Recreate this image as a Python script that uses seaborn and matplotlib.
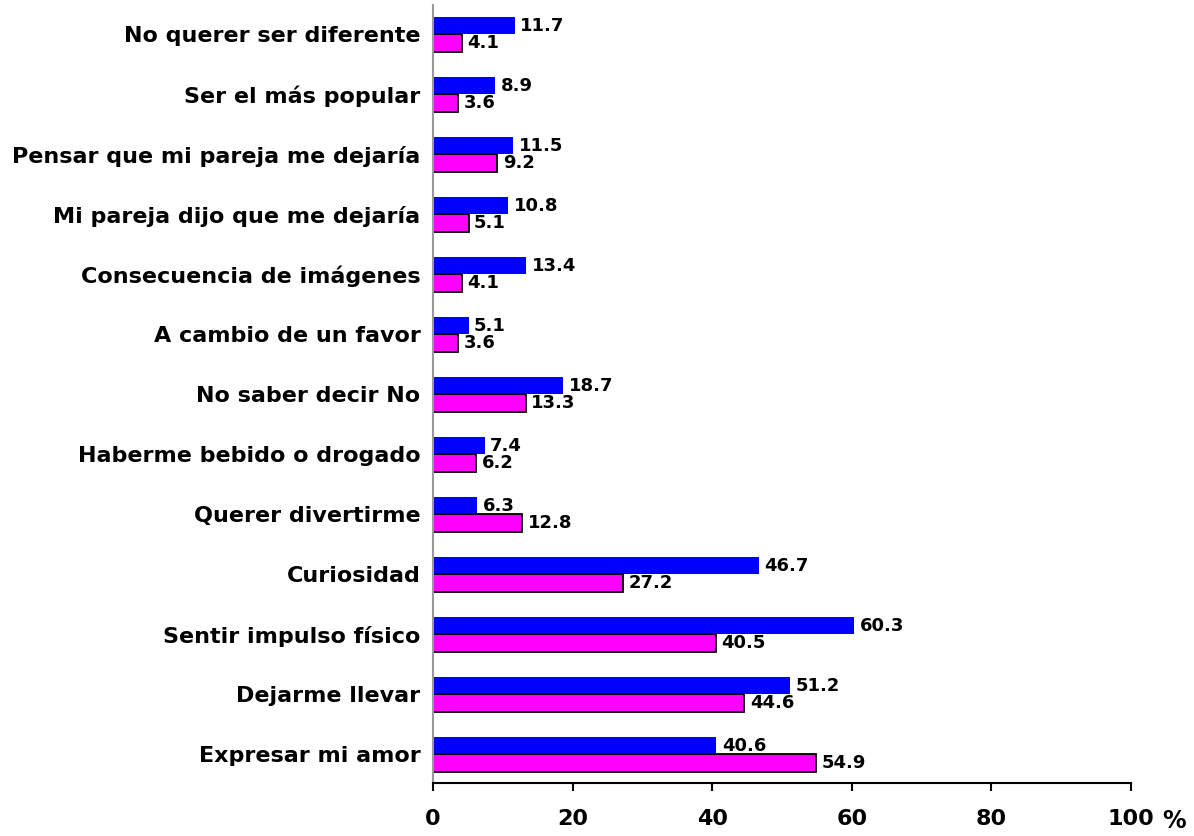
import pandas as pd
import seaborn as sns
import matplotlib.pyplot as plt

# motivos (de arriba abajo) y porcentajes por grupo
motivos = ['No querer ser diferente', 'Ser el más popular',
           'Pensar que mi pareja me dejaría', 'Mi pareja dijo que me dejaría',
           'Consecuencia de imágenes', 'A cambio de un favor',
           'No saber decir No', 'Haberme bebido o drogado',
           'Querer divertirme', 'Curiosidad', 'Sentir impulso físico',
           'Dejarme llevar', 'Expresar mi amor']
hombres = [11.7, 8.9, 11.5, 10.8, 13.4, 5.1, 18.7, 7.4, 6.3, 46.7, 60.3, 51.2, 40.6]
mujeres = [4.1, 3.6, 9.2, 5.1, 4.1, 3.6, 13.3, 6.2, 12.8, 27.2, 40.5, 44.6, 54.9]
grupos = ['Hombres', 'Mujeres']
x_ticks = [0, 20, 40, 60, 80, 100]

df = pd.DataFrame({'motivo': motivos * 2,
                   'pct': hombres + mujeres,
                   'grupo': [grupos[0]] * len(motivos) + [grupos[1]] * len(motivos)})

sns.set_style('white')
plt.rcParams['font.family'] = ['DejaVu Sans']
plt.rcParams['font.weight'] = 'bold'
plt.rcParams['text.color'] = 'black'
plt.rcParams['xtick.color'] = 'black'
plt.rcParams['ytick.color'] = 'black'

fig = plt.figure(figsize=(11.94, 8.36), dpi=100)
ax = fig.add_axes([0.3626, 0.0634, 0.5846, 0.9306])

sns.barplot(data=df, x='pct', y='motivo', hue='grupo', orient='h',
            palette=['#0000FF', '#FF00FF'], saturation=1, width=0.58,
            legend=False, ax=ax)

# azul sin borde, magenta con borde negro
for p in ax.containers[0]:
    p.set_edgecolor('none')
for p in ax.containers[1]:
    p.set_edgecolor('black')
    p.set_linewidth(1.3)

for c in ax.containers:
    ax.bar_label(c, fmt='%.1f', padding=4, fontsize=13, fontweight='bold',
                 color='black')

ax.set_xlim(0, 100)
ax.set_ylim(12.48, -0.49)
ax.set_xticks(x_ticks)
ax.set_xticklabels([str(t) for t in x_ticks], fontsize=16, fontweight='bold')
ax.tick_params(axis='x', direction='out', length=6, width=1.5, pad=13, bottom=True)
ax.tick_params(axis='y', length=0, pad=9)
for lab in ax.get_yticklabels():
    lab.set_fontsize(16)
    lab.set_fontweight('bold')
ax.set_xlabel('')
ax.set_ylabel('')
ax.text(1.062, -0.034, '%', transform=ax.transAxes, fontsize=17,
        fontweight='bold', ha='center', va='top')

for s in ['top', 'right']:
    ax.spines[s].set_visible(False)
ax.spines['left'].set_color('#999999')
ax.spines['left'].set_linewidth(1.5)
ax.spines['bottom'].set_color('black')
ax.spines['bottom'].set_linewidth(1.5)

fig.savefig('out.png', dpi=100)
